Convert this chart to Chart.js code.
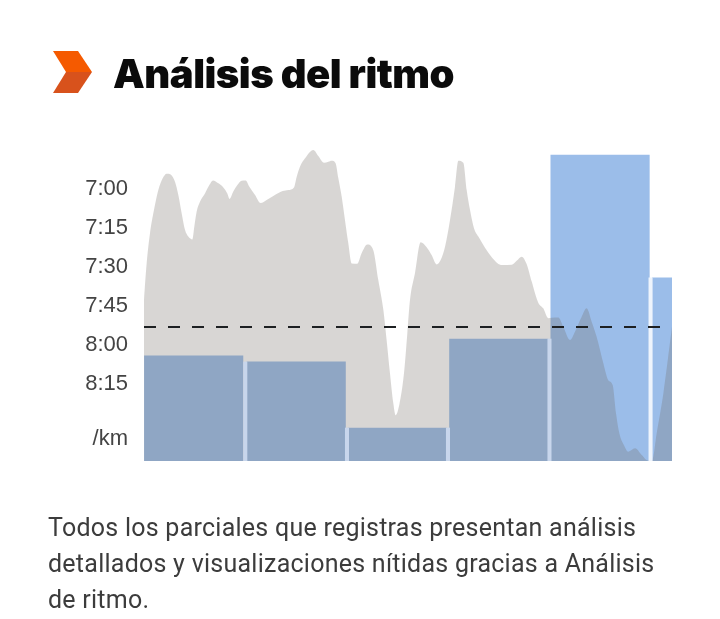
<!DOCTYPE html>
<html lang="es">
<head>
<meta charset="utf-8">
<script src="https://cdn.jsdelivr.net/npm/chart.js@4"></script>
<style>
  html,body{margin:0;padding:0;background:#fff;width:720px;height:619px;overflow:hidden}
  #c{position:absolute;left:0;top:0}
  h1{position:absolute;left:113px;top:48px;margin:0;font:900 40px/52px Inter,sans-serif;letter-spacing:-0.5px;color:#0b0b0b;white-space:nowrap}
  p{position:absolute;left:48px;top:510px;margin:0;width:640px;font:400 25px/36px Roboto,sans-serif;letter-spacing:.25px;color:#3c3c3c}
  svg{position:absolute;left:53px;top:51px}
</style>
</head>
<body>
<canvas id="c" width="720" height="619"></canvas>
<svg width="39" height="42" viewBox="0 0 39 42"><polygon points="0,0 25,0 39,21 13,21" fill="#F55A00"/><polygon points="13,21 39,21 25,42 0,42" fill="#D8521C"/></svg>
<h1>Análisis del ritmo</h1>
<p>Todos los parciales que registras presentan análisis<br>detallados y visualizaciones nítidas gracias a Análisis<br>de ritmo.</p>
<script>
const paceKm = [0,.026,.059,.098,.141,.184,.223,.262,.305,.338,.371,.404,.436,.476,.495,.518,.551,.6,.643,.679,.732,.781,.82,.843,.879,.919,.961,1.001,1.037,1.093,1.148,1.207,1.273,1.365,1.421,1.476,1.503,1.535,1.585,1.667,1.716,1.772,1.814,1.847,1.886,1.913,1.946,1.978,2.011,2.044,2.1,2.142,2.198,2.257,2.306,2.356,2.388,2.421,2.454,2.477,2.513,2.559,2.592,2.618,2.667,2.723,2.782,2.831,2.881,2.92,2.963,3.012,3.061,3.094,3.143,3.176,3.209,3.248,3.291,3.34,3.406,3.488,3.537,3.619,3.668,3.717,3.766,3.816,3.881,3.93,3.98,4.012,4.078,4.127,4.193,4.242,4.308,4.357,4.406,4.455,4.521,4.57,4.613,4.646,4.679,4.724,4.767,4.833,4.899,4.964,5.003,5.046,5.112,5.197];
const paceSec = [462.7,448.6,437,428.1,420.4,415.9,414.1,414.4,417.2,422.3,429.4,435.8,438.3,439.4,434.5,428.7,424.9,421.7,418.5,416.7,417.8,419.4,421.7,423.8,421,418.5,416.8,416.7,419.1,422.3,425.4,424.2,422.7,420.8,420.4,419.4,415.3,411.4,408.2,405,407.3,409.9,409.5,409.1,410.1,415.9,423,431.9,440.9,448.6,448.7,444.7,441.3,443.5,455,466.5,478.1,490.9,502.4,507,503,490.9,475.5,462.7,452.4,440.5,442.4,445.4,449,447.3,442.2,431.9,419.1,409.1,409.9,420.4,428.1,435.1,438.3,441.5,445.4,448.8,449.2,449.1,447.6,446,448.8,455.6,463.7,465.9,469.7,469.5,469.4,473,478.1,474.9,469.1,465.9,471,476.8,487,493.5,495.4,506.3,514,518.5,521,519.7,522.3,524.5,524.2,514,498.6,473];
const lapCenterKm = [.489,1.498,2.493,3.492,4.489];
const lapSec = [484.2,486.5,511.9,477.7,406.9];
const lastLapKm = [5.1];
const lastLapSec = [454.2];
const splitKm = [.997,1.998,2.992,3.991,4.986];
const splitSec = [486.5,511.9,511.9,477.7,454.2];
const avgKm = [0,5.079];
const avgSec = [473.1,473.1];
const tickValues = [420,435,450,465,480,495,516.2];
const tickLabels = ['7:00','7:15','7:30','7:45','8:00','8:15','/km'];
const yTop = 397.3, yBottom = 524.6, xEnd = 5.197;

const pts = (xs, ys) => xs.map((x, i) => ({x, y: ys[i]}));
new Chart(document.getElementById('c'), {
  type: 'bar',
  data: { datasets: [
    { type:'bar', data: pts(lapCenterKm, lapSec), base: yBottom, grouped:false, barThickness:98.5, backgroundColor:'#9BBDE9', borderWidth:0, order:3 },
    { type:'bar', data: pts(lastLapKm, lastLapSec), base: yBottom, grouped:false, barThickness:19.7, backgroundColor:'#9BBDE9', borderWidth:0, order:3 },
    { type:'line', data: pts(paceKm, paceSec), fill:{value:yBottom}, backgroundColor:'rgba(110,103,96,0.27)', borderWidth:0, pointRadius:0, cubicInterpolationMode:'monotone', order:2 },
    { type:'bar', data: pts(splitKm, splitSec), base: yBottom, grouped:false, barThickness:3.4, backgroundColor:['#C8D6EC','#C8D6EC','#C8D6EC','#C8D6EC','#EEF4FC'], borderWidth:0, order:1 },
    { type:'line', data: pts(avgKm, avgSec), fill:false, borderColor:'#1d2022', borderWidth:2, borderDash:[12,12], pointRadius:0, order:0 }
  ]},
  options: {
    responsive:false, animation:false, events:[],
    layout:{ padding:{ left:0, right:48, top:130, bottom:158 } },
    plugins:{ legend:{display:false}, title:{display:false}, tooltip:{enabled:false} },
    scales:{
      x:{ type:'linear', display:false, min:0, max:xEnd, offset:false, grid:{display:false} },
      y:{ reverse:true, min:yTop, max:yBottom, grid:{display:false}, border:{display:false},
          afterBuildTicks:s => { s.ticks = tickValues.map(value => ({value})); },
          afterFit:s => { s.width = 144; },
          ticks:{ autoSkip:false, padding:8, color:'#444', font:{family:'"Liberation Sans"', size:22},
                  callback:v => tickLabels[tickValues.indexOf(v)] } }
    }
  }
});
</script>
</body>
</html>
